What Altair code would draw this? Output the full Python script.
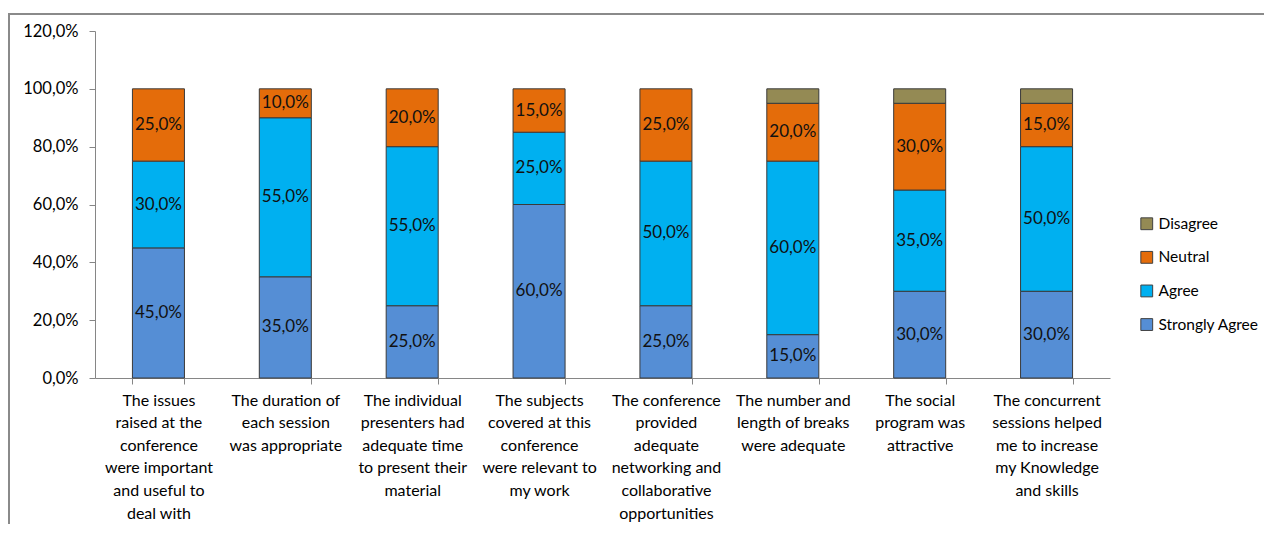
import altair as alt
import pandas as pd

label_lines = [
    ["The issues", "raised at the", "conference", "were important", "and useful to", "deal with"],
    ["The duration of", "each session", "was appropriate"],
    ["The individual", "presenters had", "adequate time", "to present their", "material"],
    ["The subjects", "covered at this", "conference", "were relevant to", "my work"],
    ["The conference", "provided", "adequate", "networking and", "collaborative", "opportunities"],
    ["The number and", "length of breaks", "were adequate"],
    ["The social", "program was", "attractive"],
    ["The concurrent", "sessions helped", "me to increase", "my Knowledge", "and skills"],
]
categories = ["|".join(l) for l in label_lines]

series = ["Strongly Agree", "Agree", "Neutral", "Disagree"]
strongly_agree = [45, 35, 25, 60, 25, 15, 30, 30]
agree = [30, 55, 55, 25, 50, 60, 35, 50]
neutral = [25, 10, 20, 15, 25, 20, 30, 15]
disagree = [0, 0, 0, 0, 0, 5, 5, 5]

colors = {"Disagree": "#948A54", "Neutral": "#E46C0A", "Agree": "#00B0F0", "Strongly Agree": "#558ED5"}
legend_order = ["Disagree", "Neutral", "Agree", "Strongly Agree"]

rows = []
for i, c in enumerate(categories):
    for k, (s, vals) in enumerate(zip(series, [strongly_agree, agree, neutral, disagree])):
        if vals[i] > 0:
            rows.append({"cat": c, "series": s, "value": vals[i], "rank": k})
df = pd.DataFrame(rows)

FONT = "Lato"

x_enc = alt.X(
    "cat:N",
    sort=categories,
    title=None,
    scale=alt.Scale(paddingInner=0.59, paddingOuter=0.295),
    axis=alt.Axis(
        labelExpr="split(datum.label, '|')",
        labelAngle=0,
        labelAlign="center",
        labelBaseline="top",
        labelFont=FONT,
        labelFontSize=16,
        labelColor="#000000",
        labelLineHeight=22.6,
        labelPadding=8,
        tickSize=6,
        tickBand="extent",
        tickColor="#868686",
        domainColor="#868686",
        labelLimit=200,
    ),
)

bars = alt.Chart(df).mark_bar(stroke="#3a3a3a", strokeWidth=1).encode(
    x=x_enc,
    y=alt.Y(
        "value:Q",
        stack="zero",
        title=None,
        scale=alt.Scale(domain=[0, 120]),
        axis=alt.Axis(
            values=[0, 20, 40, 60, 80, 100, 120],
            labelExpr="replace(format(datum.value/100, '.1%'), '.', ',')",
            grid=False,
            labelFont=FONT,
            labelFontSize=16.5,
            labelColor="#000000",
            labelPadding=11,
            tickSize=6,
            tickColor="#868686",
            domainColor="#868686",
        ),
    ),
    color=alt.Color(
        "series:N",
        scale=alt.Scale(domain=legend_order, range=[colors[s] for s in legend_order]),
        legend=alt.Legend(
            title=None,
            orient="none",
            legendX=1044,
            legendY=185,
            symbolType="square",
            symbolSize=140,
            symbolStrokeColor="#404040",
            symbolStrokeWidth=1,
            labelFont=FONT,
            labelFontSize=15.5,
            labelColor="#000000",
            rowPadding=15.6,
            labelOffset=4,
        ),
    ),
    order=alt.Order("rank:Q", sort="ascending"),
)

labels = alt.Chart(df).transform_stack(
    stack="value", groupby=["cat"], as_=["y0", "y1"], sort=[alt.SortField("rank", order="ascending")]
).transform_calculate(
    mid="(datum.y0 + datum.y1) / 2",
    txt="replace(format(datum.value/100, '.1%'), '.', ',')",
).transform_filter("datum.value >= 10").mark_text(
    font=FONT, fontSize=17, color="#111111", baseline="middle", align="center"
).encode(
    x=alt.X("cat:N", sort=categories),
    y=alt.Y("mid:Q"),
    text="txt:N",
)

frame = alt.Chart(pd.DataFrame({"a": [0]})).mark_rect(
    fill=None, stroke="#8a8a8a", strokeWidth=2
).encode(
    x=alt.value(-86), x2=alt.value(1400), y=alt.value(-17), y2=alt.value(700)
)

chart = alt.layer(frame, bars, labels).properties(
    width=1015,
    height=347,
    padding={"left": 87, "top": 23, "right": 154, "bottom": 146},
    autosize=alt.AutoSizeParams(type="none"),
).configure_view(stroke=None)

chart.save("out.html", embed_options={"renderer": "svg", "actions": False})
